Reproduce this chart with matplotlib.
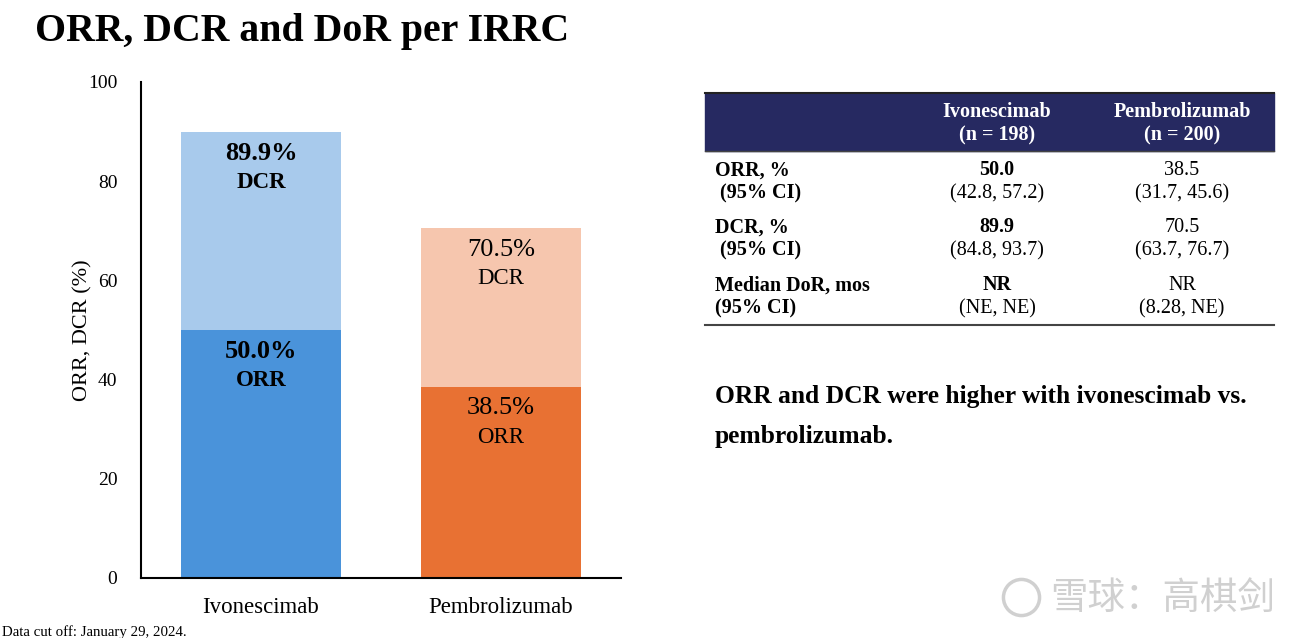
import matplotlib.pyplot as plt
from matplotlib.patches import Rectangle
from matplotlib.lines import Line2D

# data
arms = ['Ivonescimab', 'Pembrolizumab']
orr = [50.0, 38.5]
dcr = [89.9, 70.5]
orr_colors = ['#4A93DA', '#E87133']
dcr_colors = ['#A8CAEC', '#F6C6AE']
label_bold = [True, False]

tbl_header = ['Ivonescimab\n(n = 198)', 'Pembrolizumab\n(n = 200)']
tbl_rows = ['ORR, %\n (95% CI)', 'DCR, %\n (95% CI)', 'Median DoR, mos\n(95% CI)']
tbl_ivo = [('50.0', '(42.8, 57.2)'), ('89.9', '(84.8, 93.7)'), ('NR', '(NE, NE)')]
tbl_pem = [('38.5', '(31.7, 45.6)'), ('70.5', '(63.7, 76.7)'), ('NR', '(8.28, NE)')]

plt.rcParams['font.family'] = ['Liberation Serif', 'DejaVu Serif']

fig = plt.figure(figsize=(13.14, 6.38), dpi=100)
W, H = 1314, 638

def fx(px):
    return px / W

def fy(py):
    return 1 - py / H

ax = fig.add_axes([fx(141), fy(578), fx(621) - fx(141), fy(82) - fy(578)])
x = [0, 1]
ax.bar(x, orr, width=0.67, color=orr_colors)
ax.bar(x, [d - o for d, o in zip(dcr, orr)], bottom=orr, width=0.67, color=dcr_colors)
ax.set_xlim(-0.5, 1.5)
ax.set_ylim(0, 100)
ax.set_yticks([0, 20, 40, 60, 80, 100])
ax.tick_params(axis='y', length=0, labelsize=14, pad=17)
ax.tick_params(axis='x', length=0, labelsize=16.5, pad=14)
ax.set_xticks(x)
ax.set_xticklabels(arms)
ax.spines['top'].set_visible(False)
ax.spines['right'].set_visible(False)
ax.spines['left'].set_linewidth(1.5)
ax.spines['bottom'].set_linewidth(1.5)
ax.set_ylabel('ORR, DCR (%)', fontsize=16, labelpad=-3)

for i in range(2):
    w = 'bold' if label_bold[i] else 'normal'
    ax.text(x[i], dcr[i] - 4.3, f'{dcr[i]:.1f}%', ha='center', va='center', fontsize=19, fontweight=w)
    ax.text(x[i], dcr[i] - 10.1, 'DCR', ha='center', va='center', fontsize=16.5, fontweight=w)
    ax.text(x[i], orr[i] - 4.3, f'{orr[i]:.1f}%', ha='center', va='center', fontsize=19, fontweight=w)
    ax.text(x[i], orr[i] - 10.1, 'ORR', ha='center', va='center', fontsize=16.5, fontweight=w)

fig.text(fx(35), fy(31), 'ORR, DCR and DoR per IRRC', fontsize=28.6, fontweight='bold', va='center')
fig.text(fx(2), fy(632), 'Data cut off: January 29, 2024.', fontsize=10.7, va='center')

# table
fig.patches.append(Rectangle((fx(705), fy(151)), fx(1274) - fx(705), fy(93) - fy(151),
                             transform=fig.transFigure, color='#262961'))
for yy, lw, c in [(93, 1.5, '#222222'), (151, 1.0, '#444444'), (325, 1.5, '#444444')]:
    fig.lines.append(Line2D([fx(705), fx(1274)], [fy(yy), fy(yy)], transform=fig.transFigure,
                            color=c, lw=lw))
col_x = [997, 1182]
for j, h in enumerate(tbl_header):
    fig.text(fx(col_x[j]), fy(124), h, ha='center', va='center', fontsize=14.5,
             fontweight='bold', color='white', linespacing=1.25)
row_y = [182, 239, 297]
for i, r in enumerate(tbl_rows):
    fig.text(fx(715), fy(row_y[i]), r, ha='left', va='center', fontsize=14.5, fontweight='bold',
             linespacing=1.25)
    for j, vals in enumerate([tbl_ivo[i], tbl_pem[i]]):
        fig.text(fx(col_x[j]), fy(row_y[i] - 11.5), vals[0], ha='center', va='center', fontsize=14.5,
                 fontweight='bold' if j == 0 else 'normal')
        fig.text(fx(col_x[j]), fy(row_y[i] + 11.5), vals[1], ha='center', va='center', fontsize=14.5)

fig.text(fx(715), fy(396), 'ORR and DCR were higher with ivonescimab vs.', fontsize=18.4,
         fontweight='bold', va='center')
fig.text(fx(715), fy(436), 'pembrolizumab.', fontsize=18.4, fontweight='bold', va='center')

# watermark
fig.lines.append(Line2D([fx(1021)], [fy(597)], transform=fig.transFigure, marker='o',
                        ms=26, mfc='none', mec='#d0d0d0', mew=2.5))
fig.text(fx(1050), fy(598), '\u96ea\u7403\uff1a\u9ad8\u68cb\u5251', fontsize=27, color='#d0d0d0',
         va='center', family=['Noto Sans CJK SC', 'DejaVu Sans'])

fig.savefig('out.png', dpi=100)
